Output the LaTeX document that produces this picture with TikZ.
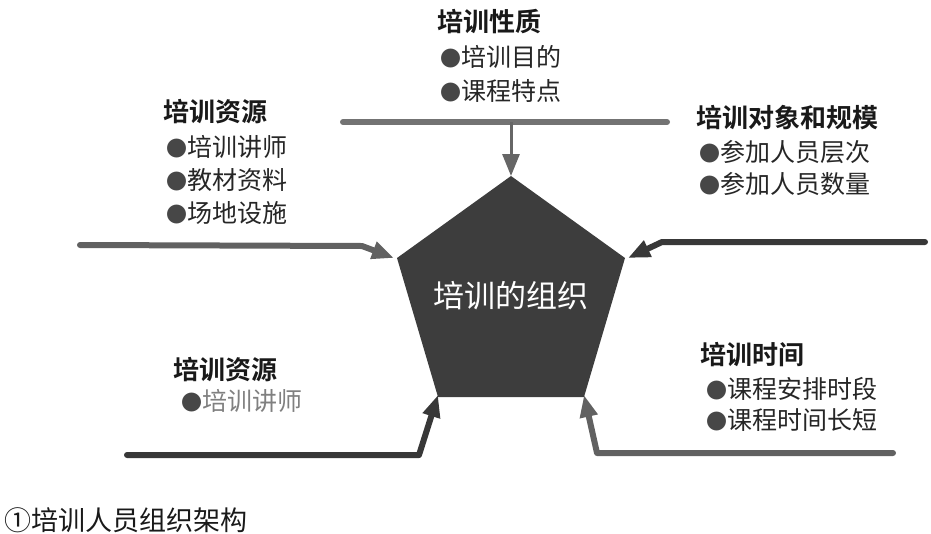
\documentclass[tikz,border=0pt]{standalone}
\usepackage{fontspec}
\setmainfont{Noto Sans CJK SC}[BoldFont={Noto Sans CJK SC Bold}]
\usetikzlibrary{arrows.meta}
\newcommand\bulmark{{\fontsize{21}{21}\selectfont\color{black!72}●}}
\begin{document}
\begin{tikzpicture}[x=1pt,y=-1pt,
  title/.style={font=\bfseries\fontsize{26}{30}\selectfont, anchor=west, inner sep=0pt, text=black!90},
  item/.style={font=\fontsize{25}{30}\selectfont, anchor=west, inner sep=0pt, text=black!85},
  bar/.style={line width=6pt, line join=round, line cap=round},
  tip/.style={-{Triangle[length=22pt,width=17pt]}},
  ]
\useasboundingbox (0,0) rectangle (931,533);

% central pentagon
\coordinate (pT)  at (511,176);
\coordinate (pL)  at (397,258);
\coordinate (pR)  at (625,258);
\coordinate (pBL) at (438,397);
\coordinate (pBR) at (584,397);
\fill[black!76] (pT) -- (pR) -- (pBR) -- (pBL) -- (pL) -- cycle;
\node[text=white, font=\fontsize{31}{34}\selectfont, inner sep=0pt] (org) at (511,296) {培训的组织};

% top block
\node[title] (t1) at (437,22) {培训性质};
\node[item]  (t2) at (440,57) {\bulmark 培训目的};
\node[item]  (t3) at (440,91) {\bulmark 课程特点};

% left block
\node[title] (l1) at (163,112) {培训资源};
\node[item]  (l2) at (166,147) {\bulmark 培训讲师};
\node[item]  (l3) at (166,180) {\bulmark 教材资料};
\node[item]  (l4) at (166,213) {\bulmark 场地设施};

% right block
\node[title] (r1) at (696,118) {培训对象和规模};
\node[item]  (r2) at (699,152) {\bulmark 参加人员层次};
\node[item]  (r3) at (699,184) {\bulmark 参加人员数量};

% bottom-left block
\node[title] (b1) at (173,370) {培训资源};
\node[item, text=black!50] (b2) at (181,401) {\bulmark 培训讲师};

% bottom-right block
\node[title] (c1) at (700,355) {培训时间};
\node[item]  (c2) at (706,389) {\bulmark 课程安排时段};
\node[item]  (c3) at (706,420) {\bulmark 课程时间长短};

% footer
\node[item, font=\fontsize{27}{30}\selectfont, text=black!90] (foot) at (4,520) {①培训人员组织架构};

% connectors
\coordinate (tL) at (343,122);
\coordinate (tR) at (667,122);
\coordinate (tM) at (511,122);
\draw[bar, draw=black!55] (tL) -- (tR);
\draw[line width=3pt, draw=black!60, tip] (tM) -- (pT);

\coordinate (lA) at (80,245);
\coordinate (lB) at (362,246);
\draw[bar, draw=black!62, tip] (lA) -- (lB) -- ([xshift=-3pt]pL);

\coordinate (rA) at (925,242);
\coordinate (rB) at (662,242);
\draw[bar, draw=black!78, tip] (rA) -- (rB) -- ([xshift=3pt]pR);

\coordinate (bA) at (127,455);
\coordinate (bB) at (419,455);
\draw[bar, draw=black!78, tip] (bA) -- (bB) -- ([yshift=2pt]pBL);

\coordinate (cA) at (893,453);
\coordinate (cB) at (597,453);
\draw[bar, draw=black!62, tip] (cA) -- (cB) -- ([yshift=2pt]pBR);
\end{tikzpicture}
\end{document}
